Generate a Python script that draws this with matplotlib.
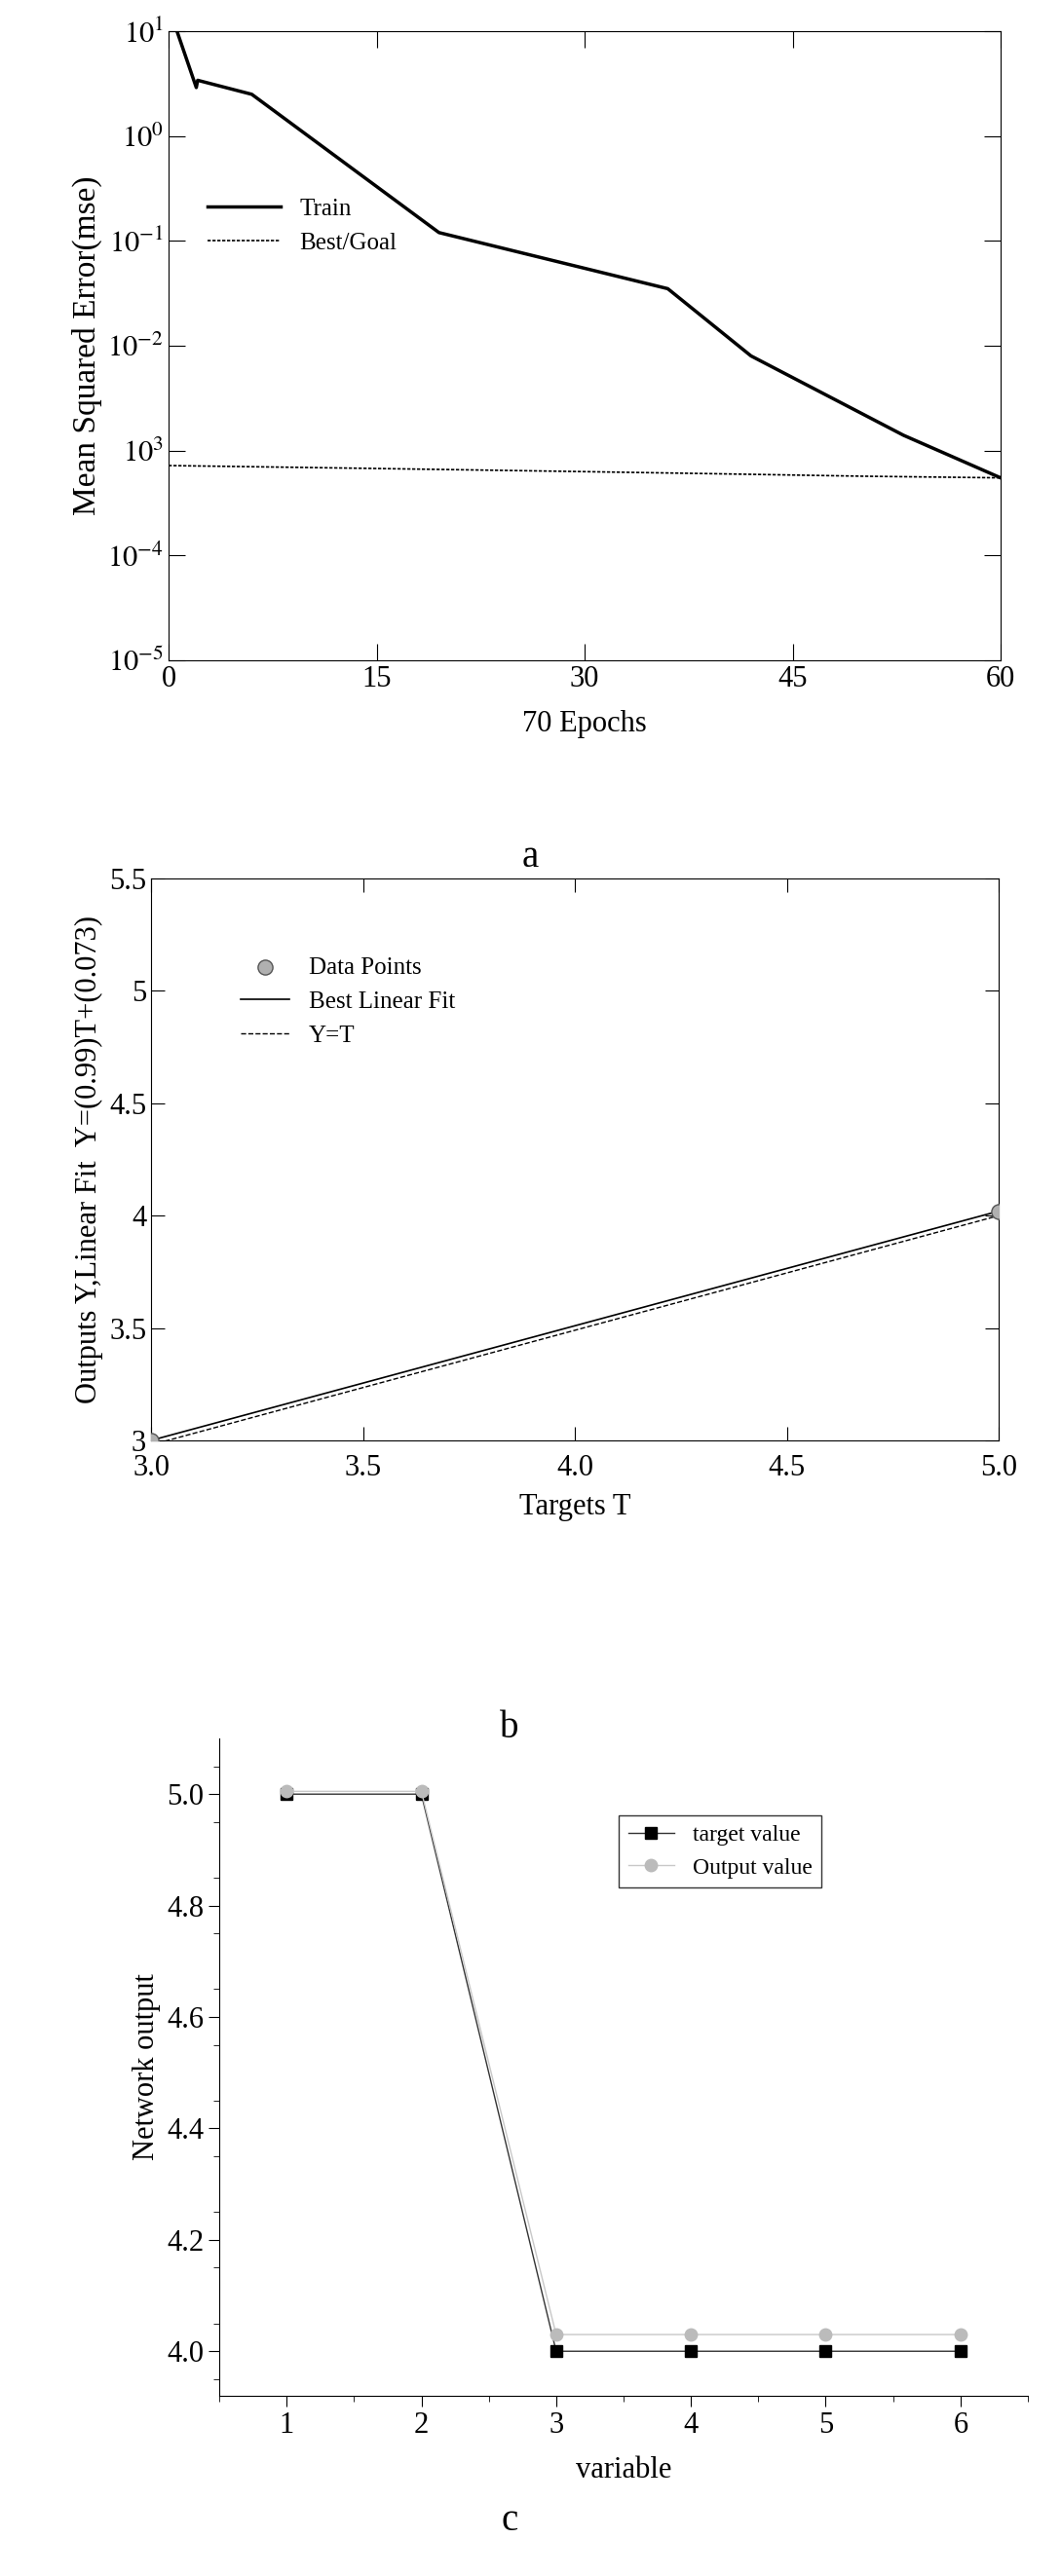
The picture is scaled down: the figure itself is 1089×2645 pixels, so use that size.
import matplotlib.pyplot as plt
import numpy as np

plt.rcParams['font.family'] = ['Liberation Serif', 'DejaVu Serif']
plt.rcParams['mathtext.fontset'] = 'stix'

# panel a: training curve
train_epochs = [0.5, 2, 2.1, 6, 19.5, 36, 42, 53, 60]
train_mse = [11, 2.9, 3.4, 2.5, 0.12, 0.035, 0.008, 0.0014, 0.00055]
goal_epochs = [0, 10, 20, 30, 40, 50, 60]
goal_mse = [0.00072, 0.00069, 0.00066, 0.00063, 0.0006, 0.00057, 0.00055]
a_yticks = [1e1, 1e0, 1e-1, 1e-2, 1e-3, 1e-4, 1e-5]
a_ylabels = ['$10^{1}$', '$10^{0}$', '$10^{-1}$', '$10^{-2}$', '$10^{3}$', '$10^{-4}$', '$10^{-5}$']

# panel b: regression
b_targets = [3.0, 5.0]
b_outputs = [3.0, 4.02]
fit_slope, fit_icpt = 0.51, 1.47
yt_line = [2.98, 4.0]

# panel c: target vs output
variables = [1, 2, 3, 4, 5, 6]
target_values = [5.0, 5.0, 4.0, 4.0, 4.0, 4.0]
output_values = [5.005, 5.005, 4.03, 4.03, 4.03, 4.03]

fig = plt.figure(figsize=(10.89, 26.45), dpi=100)
W, H = 1089, 2645

def box(l, t, r, b):
    return [l / W, 1 - b / H, (r - l) / W, (b - t) / H]

fs = 22

# ---- a
ax = fig.add_axes(box(173, 32, 1027, 678))
ax.semilogy(train_epochs, train_mse, color='black', lw=2.5, label='Train')
ax.semilogy(goal_epochs, goal_mse, color='black', lw=1.2, ls=(0, (2, 1)), label='Best/Goal')
ax.set_xlim(0, 60)
ax.set_ylim(1e-5, 1e1)
ax.set_yticks(a_yticks)
ax.set_yticklabels(a_ylabels)
ax.minorticks_off()
ax.set_xticks([0, 15, 30, 45, 60])
ax.tick_params(labelsize=fs, direction='in', length=12, top=True, right=True)
ax.set_xlabel('70 Epochs', fontsize=fs, labelpad=12)
ax.set_ylabel('Mean Squared Error(mse)', fontsize=fs + 2)
ax.legend(loc='upper left', bbox_to_anchor=(0.02, 0.77), frameon=False, fontsize=18,
          handlelength=3)
fig.text(0.5, 1 - 880 / H, 'a', fontsize=28, ha='center', va='center')

# ---- b
ax = fig.add_axes(box(155, 902, 1025, 1479))
tx = np.array([3.0, 5.0])
ax.plot(tx, fit_slope * tx + fit_icpt, color='black', lw=1.2, label='Best Linear Fit')
ax.plot(tx, yt_line, color='black', lw=1, ls='--', label='Y=T')
ax.scatter(b_targets, b_outputs, s=120, color='#b0b0b0', edgecolor='#555555', zorder=3,
           label='Data Points')
ax.set_xlim(3.0, 5.0)
ax.set_ylim(3.0, 5.5)
ax.set_xticks([3.0, 3.5, 4.0, 4.5, 5.0])
ax.set_xticklabels(['3.0', '3.5', '4.0', '4.5', '5.0'])
ax.set_yticks([3, 3.5, 4, 4.5, 5, 5.5])
ax.set_yticklabels(['3', '3.5', '4', '4.5', '5', '5.5'])
ax.tick_params(labelsize=fs, direction='in', length=10, top=True, right=True)
ax.tick_params(axis='x', pad=10)
ax.set_xlabel('Targets T', fontsize=fs, labelpad=8)
ax.set_ylabel('Outputs Y,Linear Fit  Y=(0.99)T+(0.073)', fontsize=fs)
h, l = ax.get_legend_handles_labels()
ax.legend([h[2], h[0], h[1]], [l[2], l[0], l[1]], loc='upper left',
          bbox_to_anchor=(0.08, 0.9), frameon=False, fontsize=18)
fig.text(0.48, 1 - 1774 / H, 'b', fontsize=28, ha='center', va='center')

# ---- c
ax = fig.add_axes(box(225, 1785, 1055, 2460))
ax.plot(variables, target_values, color='#333333', lw=1, marker='s', ms=8,
        mfc='black', mec='black', label='target value')
ax.plot(variables, output_values, color='#c8c8c8', lw=1, marker='o', ms=9,
        mfc='#bbbbbb', mec='#bbbbbb', label='Output value')
ax.set_xlim(0.5, 6.5)
ax.set_ylim(3.92, 5.1)
ax.set_xticks(variables)
ax.set_yticks([4.0, 4.2, 4.4, 4.6, 4.8, 5.0])
ax.set_yticks(np.arange(3.95, 5.1, 0.1), minor=True)
ax.set_xticks(np.arange(0.5, 6.6, 0.5), minor=True)
ax.spines['top'].set_visible(False)
ax.spines['right'].set_visible(False)
ax.tick_params(labelsize=fs, direction='out', length=8)
ax.tick_params(which='minor', direction='out', length=4)
ax.set_xlabel('variable', fontsize=fs, labelpad=12)
ax.set_ylabel('Network output', fontsize=fs)
ax.legend(loc='upper left', bbox_to_anchor=(0.48, 0.9), fontsize=17, fancybox=False,
          edgecolor='black')
fig.text(0.48, 1 - 2588 / H, 'c', fontsize=28, ha='center', va='center')

fig.savefig('out.png', dpi=100)
